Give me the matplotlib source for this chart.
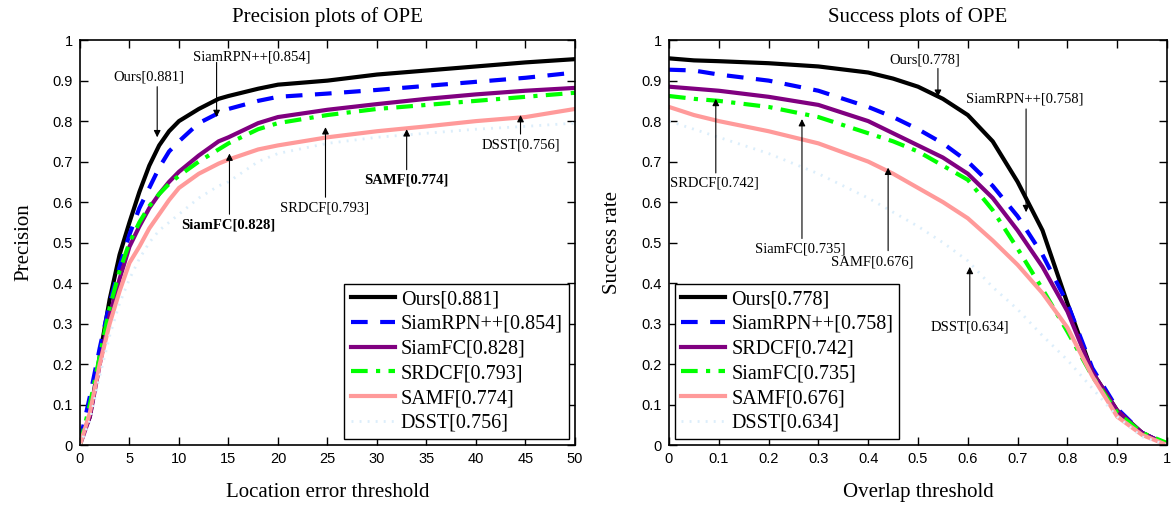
import numpy as np
import matplotlib
matplotlib.use('Agg')
from matplotlib import pyplot as plt

serif = ['Liberation Serif', 'DejaVu Serif']
sans = ['Liberation Sans', 'DejaVu Sans']

# precision plot (location error threshold)
px = np.array([0, 1, 2, 3, 4, 5, 6, 7, 8, 9, 10, 12, 14, 15, 18, 20, 25, 30, 35, 40, 45, 50])
p_ours = np.array([0.01, 0.07, 0.22, 0.36, 0.47, 0.55, 0.625, 0.69, 0.74, 0.775, 0.80, 0.83, 0.855, 0.862, 0.88, 0.89, 0.90, 0.915, 0.925, 0.935, 0.945, 0.953])
p_rpn = np.array([0.01, 0.12, 0.24, 0.35, 0.44, 0.52, 0.585, 0.635, 0.685, 0.725, 0.75, 0.795, 0.82, 0.83, 0.85, 0.86, 0.868, 0.877, 0.887, 0.897, 0.907, 0.92])
p_fc = np.array([0.0, 0.07, 0.20, 0.32, 0.41, 0.49, 0.54, 0.585, 0.62, 0.65, 0.675, 0.715, 0.75, 0.76, 0.795, 0.81, 0.828, 0.842, 0.855, 0.866, 0.875, 0.882])
p_srdcf = np.array([0.0, 0.10, 0.22, 0.34, 0.43, 0.50, 0.55, 0.59, 0.62, 0.645, 0.665, 0.70, 0.73, 0.745, 0.78, 0.795, 0.815, 0.83, 0.84, 0.85, 0.86, 0.87])
p_samf = np.array([0.0, 0.08, 0.20, 0.30, 0.38, 0.45, 0.49, 0.535, 0.57, 0.605, 0.635, 0.67, 0.695, 0.705, 0.73, 0.74, 0.76, 0.775, 0.787, 0.80, 0.81, 0.83])
p_dsst = np.array([0.0, 0.06, 0.17, 0.27, 0.35, 0.41, 0.46, 0.50, 0.53, 0.55, 0.57, 0.61, 0.64, 0.65, 0.70, 0.72, 0.745, 0.76, 0.77, 0.78, 0.787, 0.795])

# success plot (overlap threshold)
sx = np.array([0, 0.05, 0.1, 0.2, 0.3, 0.4, 0.45, 0.5, 0.55, 0.6, 0.65, 0.7, 0.75, 0.8, 0.85, 0.9, 0.95, 1.0])
s_ours = np.array([0.955, 0.95, 0.948, 0.943, 0.935, 0.92, 0.905, 0.885, 0.855, 0.815, 0.75, 0.65, 0.53, 0.35, 0.18, 0.085, 0.03, 0.0])
s_rpn = np.array([0.927, 0.925, 0.915, 0.90, 0.875, 0.835, 0.81, 0.78, 0.745, 0.70, 0.64, 0.565, 0.47, 0.35, 0.19, 0.09, 0.03, 0.0])
s_srdcf = np.array([0.885, 0.88, 0.875, 0.86, 0.84, 0.80, 0.77, 0.74, 0.71, 0.67, 0.61, 0.53, 0.44, 0.33, 0.18, 0.085, 0.03, 0.0])
s_fc = np.array([0.862, 0.855, 0.85, 0.835, 0.81, 0.77, 0.75, 0.725, 0.69, 0.655, 0.58, 0.485, 0.385, 0.28, 0.17, 0.08, 0.03, 0.005])
s_samf = np.array([0.835, 0.815, 0.80, 0.775, 0.745, 0.70, 0.67, 0.635, 0.60, 0.56, 0.505, 0.445, 0.375, 0.29, 0.17, 0.07, 0.025, 0.0])
s_dsst = np.array([0.80, 0.78, 0.76, 0.72, 0.67, 0.61, 0.575, 0.54, 0.50, 0.455, 0.39, 0.335, 0.27, 0.21, 0.14, 0.07, 0.02, 0.0])

p_names = ['Ours[0.881]', 'SiamRPN++[0.854]', 'SiamFC[0.828]', 'SRDCF[0.793]', 'SAMF[0.774]', 'DSST[0.756]']
s_names = ['Ours[0.778]', 'SiamRPN++[0.758]', 'SRDCF[0.742]', 'SiamFC[0.735]', 'SAMF[0.676]', 'DSST[0.634]']

styles = [
    dict(color='black', ls='-', lw=3.0),
    dict(color='#0000FF', ls=(0, (4, 3)), lw=3.0),
    dict(color='#800080', ls='-', lw=3.0),
    dict(color='#00FF00', ls=(0, (4, 2, 1, 2)), lw=3.0),
    dict(color='#FF9A9A', ls='-', lw=3.0),
    dict(color='#DCEEFB', ls=(0, (0.7, 2.2)), lw=2.0),
]

fig = plt.figure(figsize=(11.71, 5.08), dpi=100)
ax1 = fig.add_axes([0.0683, 0.124, 0.4227, 0.797])
ax2 = fig.add_axes([0.5713, 0.124, 0.4253, 0.797])

p_series = [p_ours, p_rpn, p_fc, p_srdcf, p_samf, p_dsst]
s_series = [s_ours, s_rpn, s_srdcf, s_fc, s_samf, s_dsst]

for ax, xs, series, names in [(ax1, px, p_series, p_names), (ax2, sx, s_series, s_names)]:
    for ys, st, nm in zip(series, styles, names):
        ax.plot(xs, ys, color=st['color'], linestyle=st['ls'], linewidth=st['lw'], label=nm)
    ax.set_ylim(0, 1)
    ax.set_yticks(np.arange(0, 1.01, 0.1))
    ax.set_yticklabels(['0'] + ['%.1f' % v for v in np.arange(0.1, 0.95, 0.1)] + ['1'])
    ax.tick_params(direction='in', top=True, right=True, length=6, width=1, labelsize=10.5, pad=5)
    for lab in ax.get_xticklabels() + ax.get_yticklabels():
        lab.set_family(sans)
    for sp in ax.spines.values():
        sp.set_linewidth(1.2)

ax1.set_xlim(0, 50)
ax1.set_xticks(np.arange(0, 51, 5))
ax1.set_xticklabels([str(v) for v in range(0, 51, 5)], family=sans)
ax2.set_xlim(0, 1)
ax2.set_xticks(np.arange(0, 1.01, 0.1))
ax2.set_xticklabels(['0'] + ['%.1f' % v for v in np.arange(0.1, 0.95, 0.1)] + ['1'], family=sans)

ax1.set_title('Precision plots of OPE', family=serif, fontsize=15, pad=13)
ax2.set_title('Success plots of OPE', family=serif, fontsize=15, pad=13)
ax1.set_xlabel('Location error threshold', family=serif, fontsize=15, labelpad=12)
ax2.set_xlabel('Overlap threshold', family=serif, fontsize=15, labelpad=12)
ax1.set_ylabel('Precision', family=serif, fontsize=15, labelpad=14)
ax2.set_ylabel('Success rate', family=serif, fontsize=15, labelpad=14)

leg_kw = dict(prop={'family': serif, 'size': 14.5}, frameon=True, fancybox=False,
              edgecolor='black', framealpha=1, handlelength=2.2, handletextpad=0.3,
              borderpad=0.3, labelspacing=0.28, borderaxespad=0.3)
l1 = ax1.legend(loc='lower right', **leg_kw)
l2 = ax2.legend(loc='lower left', **leg_kw)
for lg in (l1, l2):
    lg.get_frame().set_linewidth(1.0)

arrow = dict(arrowstyle='-|>', color='black', lw=0.8, mutation_scale=10, shrinkA=0, shrinkB=0)

# left annotations: (text, text xy, arrow tail, arrow tip, bold)
p_notes = [
    ('Ours[0.881]', (7.0, 0.91), (7.8, 0.885), (7.8, 0.76), False),
    ('SiamRPN++[0.854]', (17.4, 0.958), (13.8, 0.945), (13.8, 0.81), False),
    ('SiamFC[0.828]', (15.0, 0.543), (15.1, 0.57), (15.1, 0.72), True),
    ('SRDCF[0.793]', (24.7, 0.585), (24.8, 0.612), (24.8, 0.785), False),
    ('SAMF[0.774]', (33.0, 0.654), (33.0, 0.68), (33.0, 0.78), True),
    ('DSST[0.756]', (44.5, 0.74), (44.5, 0.768), (44.5, 0.815), False),
]
for txt, txy, tail, tip, bold in p_notes:
    ax1.text(txy[0], txy[1], txt, family=serif, fontsize=10.5, ha='center', va='center',
             fontweight='bold' if bold else 'normal')
    ax1.annotate('', xy=tip, xytext=tail, arrowprops=arrow)

s_notes = [
    ('Ours[0.778]', (0.514, 0.95), (0.54, 0.93), (0.54, 0.86), False),
    ('SiamRPN++[0.758]', (0.715, 0.854), (0.717, 0.83), (0.717, 0.575), False),
    ('SRDCF[0.742]', (0.092, 0.646), (0.094, 0.672), (0.094, 0.855), False),
    ('SiamFC[0.735]', (0.263, 0.483), (0.267, 0.51), (0.267, 0.805), False),
    ('SAMF[0.676]', (0.408, 0.453), (0.44, 0.48), (0.44, 0.685), False),
    ('DSST[0.634]', (0.604, 0.292), (0.604, 0.32), (0.604, 0.44), False),
]
for txt, txy, tail, tip, bold in s_notes:
    ax2.text(txy[0], txy[1], txt, family=serif, fontsize=10.5, ha='center', va='center')
    ax2.annotate('', xy=tip, xytext=tail, arrowprops=arrow)

fig.savefig('out.png', dpi=100)
